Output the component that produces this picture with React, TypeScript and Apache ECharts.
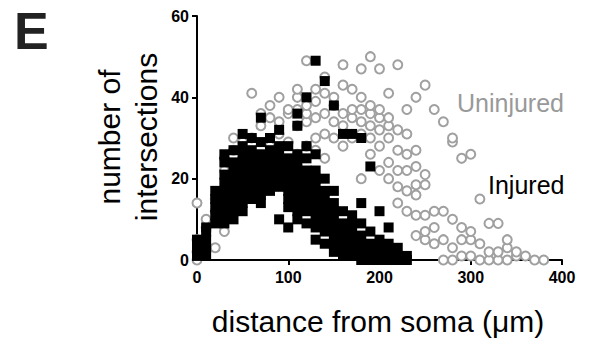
import React, { useEffect, useRef } from "react";
import * as echarts from "echarts";

// Sholl analysis: distance steps (µm) and number of intersections per neuron
const uninjuredX = [0, 10, 20, 30, 40, 50, 60, 70, 80, 90, 100, 110, 120, 130, 140, 150, 160, 170, 180, 190, 200, 210, 220, 230, 240, 250, 260, 270, 280, 290, 300, 310, 320, 330, 340, 350, 360, 370, 380];
const uninjuredY: number[][] = [
  [0, 2, 5, 14],
  [3, 8, 10],
  [3, 12, 15],
  [7, 14, 22, 25],
  [14, 22, 27, 30],
  [14, 25, 29],
  [19, 26, 30, 41],
  [16, 24, 33, 36],
  [20, 28, 35, 38],
  [22, 31, 34, 40],
  [24, 29, 36, 37],
  [26, 33, 37, 40, 42],
  [28, 34, 36, 38, 49],
  [27, 30, 35, 39, 42],
  [25, 31, 36, 41, 45],
  [30, 34, 38, 40],
  [28, 33, 36, 43, 48],
  [30, 35, 37, 42],
  [20, 31, 34, 37, 40, 47],
  [26, 30, 33, 36, 38, 50],
  [22, 28, 32, 35, 37, 47],
  [20, 24, 30, 33, 35, 41],
  [14, 18, 22, 27, 32, 48],
  [12, 17, 22, 26, 31, 37],
  [6, 11, 16, 18.5, 23, 27, 40],
  [5, 7, 11, 18.5, 21, 43],
  [4, 8, 12, 37],
  [0, 5, 12, 34],
  [0, 3, 10, 29, 30],
  [1, 5, 8, 25],
  [1, 5, 7, 26],
  [0, 4, 15],
  [0, 2, 9],
  [0, 2, 9],
  [0, 3, 5],
  [1, 2],
  [1],
  [0],
  [0],
];

const injuredX = [0, 10, 20, 30, 40, 50, 60, 70, 80, 90, 100, 110, 120, 130, 140, 150, 160, 170, 180, 190, 200, 210, 220, 230];
const injuredY: number[][] = [
  [1, 2, 3, 4, 5],
  [1, 3, 5, 7, 8],
  [9, 11, 13, 15, 17],
  [9, 11, 13, 15, 17, 19, 21, 24, 26],
  [10, 12, 14, 16, 18, 20, 22, 24, 27],
  [12, 14, 16, 18, 20, 22, 24, 26, 28, 31],
  [15, 17, 19, 21, 23, 25, 27, 30],
  [14, 16, 18, 20, 22, 24, 26, 29, 35],
  [17, 19, 21, 23, 25, 27, 30],
  [10, 18, 20, 22, 24, 26, 28, 32],
  [8, 13, 15, 17, 19, 21, 23, 25, 28],
  [10, 12, 14, 16, 18, 20, 22, 24, 26, 33, 36],
  [9, 12, 14, 16, 18, 20, 22, 25, 28, 40],
  [5, 8, 10, 12, 14, 16, 18, 20, 22, 26, 49],
  [4, 7, 9, 11, 13, 15, 17, 20, 44],
  [2, 4, 6, 8, 10, 12, 14, 17, 38],
  [1, 3, 5, 7, 9, 12, 31],
  [1, 3, 5, 7, 9, 11, 31],
  [0, 2, 4, 6, 9, 14, 30],
  [0, 2, 4, 7, 23],
  [0, 1, 3, 5, 12],
  [0, 2, 4, 8],
  [0, 1, 3],
  [0, 1],
];

const xTicks = { min: 0, max: 400, interval: 100 };
const yTicks = { min: 0, max: 60, interval: 20 };

function toPairs(xs: number[], ys: number[][]): number[][] {
  const out: number[][] = [];
  xs.forEach((x, i) => ys[i].forEach((y) => out.push([x, y])));
  return out;
}

const FONT = "'Liberation Sans', Arial, Helvetica, sans-serif";
const GRAY = "#a0a0a0";

export default function App() {
  const ref = useRef<HTMLDivElement>(null);
  useEffect(() => {
    if (!ref.current) return;
    const chart = echarts.init(ref.current, undefined, { renderer: "svg" });
    const axisCommon = {
      axisLine: { show: true, lineStyle: { color: "#000", width: 2 } },
      axisTick: { show: true, length: 5, lineStyle: { color: "#000", width: 2 } },
      axisLabel: { color: "#000", fontWeight: "bold" as const, fontSize: 16, fontFamily: FONT },
      splitLine: { show: false },
    };
    chart.setOption({
      animation: false,
      backgroundColor: "#fff",
      grid: { left: 197, right: 27, top: 16, bottom: 89, containLabel: false },
      xAxis: { type: "value", ...xTicks, ...axisCommon, axisLabel: { ...axisCommon.axisLabel, margin: 9 } },
      yAxis: { type: "value", ...yTicks, ...axisCommon, axisLabel: { ...axisCommon.axisLabel, margin: 8 } },
      series: [
        {
          name: "Uninjured",
          type: "scatter",
          symbol: "emptyCircle",
          symbolSize: 9,
          data: toPairs(uninjuredX, uninjuredY),
          itemStyle: { color: GRAY, borderColor: GRAY, borderWidth: 2, opacity: 1 },
          z: 2,
        },
        {
          name: "Injured",
          type: "scatter",
          symbol: "rect",
          symbolSize: 10,
          data: toPairs(injuredX, injuredY),
          itemStyle: { color: "#000", opacity: 1 },
          z: 3,
        },
      ],
      graphic: [
        { type: "text", left: 14, top: 5, style: { text: "E", font: `bold 52px ${FONT}`, fill: "#222" } },
        {
          type: "text",
          x: 128,
          y: 137,
          rotation: Math.PI / 2,
          style: {
            text: "number of\nintersections",
            font: `30px ${FONT}`,
            lineHeight: 37,
            fill: "#000",
            textAlign: "center",
            textVerticalAlign: "middle",
          },
        },
        {
          type: "text",
          x: 378,
          y: 321,
          style: { text: "distance from soma (μm)", font: `30px ${FONT}`, fill: "#000", textAlign: "center", textVerticalAlign: "middle" },
        },
        {
          type: "text",
          x: 457,
          y: 103,
          style: { text: "Uninjured", font: `25px ${FONT}`, fill: "#999", textAlign: "left", textVerticalAlign: "middle" },
        },
        {
          type: "text",
          x: 488,
          y: 185,
          style: { text: "Injured", font: `25px ${FONT}`, fill: "#000", textAlign: "left", textVerticalAlign: "middle" },
        },
      ],
    });
    return () => chart.dispose();
  }, []);
  return <div ref={ref} style={{ width: 589, height: 349, position: "absolute", left: 0, top: 0 }} />;
}
